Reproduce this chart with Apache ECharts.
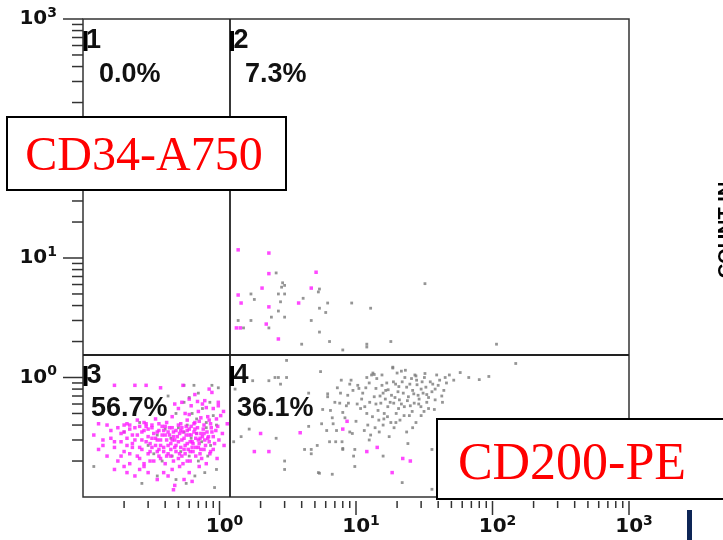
<!DOCTYPE html>
<html>
<head>
<meta charset="utf-8">
<script src="https://cdn.jsdelivr.net/npm/echarts@6/dist/echarts.min.js"></script>
<style>
  html, body { margin: 0; padding: 0; background: #fff; }
  #chart { width: 723px; height: 540px; }
</style>
</head>
<body>
<div id="chart"></div>
<script>
// Log-scaled axes (both channels span four decades)
const axisMin = 0.1;
const axisMax = 1000;
const decadeValues = [1, 10, 100, 1000];
const decadeExponents = ['0', '1', '2', '3'];
const minorTickValues = [
  0.2, 0.3, 0.4, 0.5, 0.6, 0.7, 0.8, 0.9,
  2, 3, 4, 5, 6, 7, 8, 9,
  20, 30, 40, 50, 60, 70, 80, 90,
  200, 300, 400, 500, 600, 700, 800, 900
];

// Quadrant gate thresholds
const gateX = 1.18;
const gateY = 1.56;

// Quadrant statistics
const quadrantNames = ['1', '2', '3', '4'];
const quadrantPercents = ['0.0%', '7.3%', '56.7%', '36.1%'];

// Axis channel names
const xChannel = 'CD200-PE';
const yChannel = 'CD34-A750';
const sideLabel = 'COUNT IN';

// Events: [CD200-PE, CD34-A750]
const magentaQ3 = [
  [0.17,0.86],[0.24,0.86],[0.29,0.86],[0.37,0.82],[0.88,0.75],[0.54,0.86],[0.53,0.62],[0.6,0.66],
  [0.78,0.64],[0.98,0.58],[1.07,0.52],[0.47,0.6],[0.66,0.72],[0.84,0.8],
  [0.5,0.55],[0.56,0.5],[0.62,0.58],[0.7,0.52],[0.75,0.6],[0.82,0.47],[0.9,0.55],[0.95,0.45],
  [1.02,0.48],[0.58,0.44],[0.66,0.42],[0.73,0.46],[0.86,0.41],[0.45,0.47],[0.41,0.42],[0.52,0.41],
  [0.98,0.62],[0.8,0.56],[0.69,0.63],[0.6,0.49],[1.14,0.41],
  [0.13,0.41],[0.15,0.4],[0.2,0.4],[0.21,0.41],[0.22,0.4],[0.28,0.42],[0.29,0.41],[0.32,0.4],
  [0.36,0.41],[0.25,0.44],[0.34,0.45],
  [0.12,0.33],[0.14,0.3],[0.16,0.36],[0.17,0.29],[0.19,0.34],[0.21,0.31],[0.22,0.37],[0.23,0.28],
  [0.25,0.33],[0.26,0.39],[0.27,0.3],[0.28,0.36],[0.3,0.32],[0.31,0.28],[0.32,0.38],[0.33,0.34],
  [0.35,0.3],[0.36,0.36],[0.37,0.27],[0.38,0.33],[0.4,0.39],[0.41,0.3],[0.42,0.35],[0.44,0.28],
  [0.45,0.38],[0.46,0.32],[0.48,0.36],[0.5,0.29],[0.51,0.34],[0.53,0.38],[0.55,0.31],[0.56,0.27],
  [0.58,0.36],[0.6,0.33],[0.62,0.39],[0.63,0.29],[0.65,0.35],[0.67,0.31],[0.69,0.38],[0.71,0.28],
  [0.73,0.34],[0.76,0.37],[0.78,0.3],[0.81,0.35],[0.84,0.29],[0.87,0.38],[0.9,0.32],[0.94,0.36],
  [0.99,0.3],[1.05,0.34],
  [0.2,0.35],[0.24,0.3],[0.29,0.39],[0.34,0.31],[0.39,0.36],[0.43,0.33],[0.47,0.3],[0.52,0.36],
  [0.57,0.33],[0.61,0.29],[0.66,0.37],[0.72,0.31],[0.77,0.34],[0.83,0.32],
  [0.13,0.25],[0.15,0.22],[0.17,0.26],[0.18,0.2],[0.2,0.24],[0.22,0.19],[0.23,0.26],[0.25,0.22],
  [0.27,0.25],[0.28,0.19],[0.3,0.23],[0.32,0.26],[0.33,0.2],[0.35,0.24],[0.37,0.21],[0.39,0.26],
  [0.4,0.19],[0.42,0.23],[0.44,0.25],[0.46,0.2],[0.48,0.24],[0.5,0.21],[0.52,0.26],[0.54,0.19],
  [0.56,0.23],[0.59,0.25],[0.61,0.2],[0.64,0.24],[0.67,0.22],[0.7,0.26],[0.74,0.21],[0.77,0.25],
  [0.8,0.19],[0.85,0.23],[0.9,0.25],[0.96,0.21],
  [0.19,0.22],[0.26,0.21],[0.31,0.2],[0.36,0.25],[0.41,0.22],[0.47,0.26],[0.53,0.22],[0.58,0.2],
  [0.63,0.26],[0.72,0.23],
  [0.17,0.17],[0.21,0.16],[0.26,0.17],[0.3,0.16],[0.39,0.16],[0.45,0.17],[0.47,0.125],[0.46,0.115],
  [0.55,0.14],[0.63,0.135],[0.71,0.18],[0.35,0.14],[0.24,0.15],[0.42,0.15],[0.6,0.16],[0.51,0.18],
  [0.2,0.18],[0.28,0.18],
  [0.21,0.27],[0.23,0.33],[0.24,0.38],[0.26,0.26],[0.27,0.35],[0.29,0.29],[0.3,0.37],[0.31,0.24],
  [0.32,0.31],[0.34,0.27],[0.35,0.35],[0.36,0.22],[0.37,0.3],[0.38,0.39],[0.39,0.24],[0.4,0.33],
  [0.42,0.27],[0.43,0.38],[0.44,0.22],[0.45,0.3],[0.46,0.35],[0.48,0.27],[0.49,0.32],[0.5,0.4],
  [0.51,0.23],[0.53,0.3],[0.54,0.35],[0.55,0.25],[0.57,0.39],[0.58,0.28],[0.6,0.37],[0.61,0.24],
  [0.62,0.33],[0.64,0.28],[0.65,0.41],[0.67,0.26],[0.68,0.34],[0.7,0.3],[0.71,0.43],[0.73,0.25],
  [0.75,0.32],[0.77,0.4],[0.79,0.27],[0.82,0.31],[0.84,0.44],[0.86,0.24],[0.88,0.35],[0.92,0.28],
  [0.97,0.39],[1.08,0.27],[0.16,0.31],[0.18,0.38],[0.14,0.27],[0.19,0.29],[0.22,0.23]
];

const grayQ3 = [
  [0.55,0.86],[0.65,0.86],[0.88,0.86],[0.7,0.74],[0.42,0.7],[0.6,0.68],[0.85,0.62],[0.98,0.82],
  [0.75,0.55],[0.63,0.5],[0.55,0.62],[0.9,0.48],[0.48,0.5],[0.68,0.45],[0.8,0.42],[0.95,0.4],
  [0.58,0.4],[0.2,0.35],[0.26,0.42],[0.3,0.27],[0.35,0.33],[0.4,0.37],[0.44,0.31],[0.5,0.38],
  [0.55,0.35],[0.62,0.31],[0.68,0.34],[0.74,0.29],[0.8,0.38],[0.86,0.27],[0.33,0.23],[0.38,0.2],
  [0.45,0.22],[0.52,0.24],[0.6,0.22],[0.7,0.2],[0.82,0.22],[0.95,0.17],[0.12,0.18],[0.27,0.13],
  [0.57,0.13],[0.66,0.15],[0.78,0.16],[0.92,0.12],[0.35,0.15],[0.48,0.14]
];

const magentaQ4 = [
  [2.0,0.34],[3.9,0.345],[1.8,0.24],[2.3,0.24],[8.0,0.37],[8.6,0.43],[12,0.24],[14.3,0.26],
  [18.4,0.16],[22,0.21],[25,0.2]
];

const grayQ4 = [
  [1.27,0.29],[1.44,0.32],[1.65,0.37],[2.6,0.31],[3.0,0.2],[3.0,0.17],[5.3,0.16],[4.7,0.23],
  [4.2,0.25],[5.2,0.27],[4.5,0.39],[5.6,0.41],[2.3,0.94],[2.55,1.0],[2.8,0.88],[2.7,1.0],
  [1.75,0.94],[4.5,0.74],[5.7,0.54],[6.2,0.69],[3.1,1.39],[3.1,1.0],[1.3,0.8],
  [5.5,1.12],[6.2,0.73],[6.5,0.53],[6.7,0.46],[6.8,0.41],[7.2,0.36],[6.4,0.29],[7.1,0.29],
  [7.9,0.29],[8.0,0.25],[7.7,0.74],[7.6,0.61],[8.0,0.51],[8.7,0.71],[8.8,0.61],[9.0,0.35],
  [9.4,0.34],[9.6,0.22],[9.8,0.18],[10.3,0.86],[10.5,0.81],[11.2,0.74],[11.6,0.57],[12,0.5],
  [12.2,0.4],[12.8,0.33],[13,1.05],[13.3,1.09],[13.6,0.69],[14,0.81],[14.5,0.53],[14.7,0.44],
  [15.2,0.61],[15.5,0.86],[15.8,0.74],[15.8,0.4],[16.1,0.5],[16.4,0.66],[16.8,0.9],[17.1,0.57],
  [17.2,0.79],[18,0.42],[18.2,0.71],[18.6,1.2],[18.9,0.61],[19.5,0.88],[19.7,0.5],[20,1.09],
  [20.3,0.76],[20.8,0.65],[21,0.44],[21.8,0.92],[22.2,0.74],[22.6,0.57],[23,1.15],[23.5,0.83],
  [23.5,0.35],[24.2,0.69],[24.6,0.48],[25.5,0.98],[26,0.78],[26.7,0.61],[27,1.05],[27.5,0.42],
  [28,0.87],[28.5,0.71],[29.9,0.57],[30.5,0.92],[31,0.74],[32.5,0.83],[33,0.62],[35,0.92],
  [36,0.76],[39,1.05],[40,0.86],[42.5,0.7],[48.3,1.05],[67,1.0],[37.5,0.54],
  [18.6,1.22],[21.5,1.13],[15.5,1.05],[13.6,1.06],[27.5,1.03],[31.7,1.0],[148,1.31],
  [5.4,0.158],[6.7,0.155],[21.8,0.132],[36,0.116],[9.8,0.25],[15.8,0.22],[24,0.28],[36,0.25],
  [12.5,0.3],[17.5,0.32],[8.0,0.255],[4.7,0.25],
  [9.2,0.95],[11,0.66],[12.5,0.9],[14,0.6],[17,0.47],[19,0.38],[20.5,0.55],[22.5,0.48],
  [25,0.58],[26,0.38],[29,0.66],[30,0.48],[33,0.72],[34,0.55],[38,0.65],[44,0.78],
  [46,0.9],[52,0.95],[10,0.43],[11.5,0.36],[14.8,0.35],[7.3,0.82],[8.3,0.46],[6.1,0.36],
  [58,1.1],[80,0.96],[94,1.02],
  [8.5,0.58],[9.5,0.78],[10.8,0.55],[11.8,0.82],[12.6,0.62],[13.2,0.47],[14.2,0.98],[15,0.7],
  [16.5,0.78],[17.8,0.62],[18.8,0.92],[19.3,0.68],[20.6,0.84],[21.5,0.6],[22.8,1.0],[23.8,0.64],
  [24.8,0.88],[25.8,0.52],[26.5,0.73],[27.8,0.95],[28.8,0.6],[30,0.8],[31.5,0.52],[32,1.08],
  [34,0.68],[36.5,0.88],[38,0.8],[41,0.95],[43,0.62],[45,1.0],[10.2,0.6],[13.8,0.38],
  [16,0.45],[19.6,0.42],[9,0.88],[12,1.0],[7,0.62],[7.8,0.95]
];

const magentaQ2 = [
  [1.37,11.7],[2.3,11],[2.3,7.4],[5.1,7.6],[1.37,4.9],[1.44,4.2],[2.05,5.6],[4.7,5.6],
  [3.8,4.2],[2.3,3.9],[2.2,2.8],[1.33,2.6],[1.42,2.6],[2.7,2.1]
];

const grayQ2 = [
  [2.6,7.5],[2.9,6.2],[3.0,5.9],[2.85,5.7],[2.7,5.0],[3.0,5.0],[1.7,5.0],[1.8,4.5],
  [2.8,4.3],[2.7,3.6],[3.0,3.2],[2.4,3.2],[1.7,3.0],[1.37,3.0],[1.5,2.6],[2.3,2.6],
  [4.7,3.0],[5.4,3.8],[6.0,3.5],[5.4,2.4],[6.2,4.2],[9.3,4.2],[12.8,3.8],[32,6.1],
  [6.4,2.0],[12,1.9],[12,1.8],[18,2.0],[8.0,1.7],[4.0,1.9],[5.3,5.2],[4.1,4.6],
  [5.4,5.5],[107,1.9]
];

const chart = echarts.init(document.getElementById('chart'), null, { renderer: 'canvas' });

const tickColor = '#333';
const labelFont = 'DejaVu Sans';

function decadeLabel(v) {
  const i = decadeValues.findIndex(d => Math.abs(d - v) / d < 1e-6);
  return i < 0 ? '' : '{b|10}{s|' + decadeExponents[i] + '}';
}

// tick rows: [value, kind] where kind 2 = decade, 1 = minor
const tickRows = decadeValues.map(v => [v, 2]).concat(minorTickValues.map(v => [v, 1]));

const labelRich = {
  b: { fontFamily: labelFont, fontWeight: 'bold', fontSize: 20, color: '#111', lineHeight: 26 },
  s: { fontFamily: labelFont, fontWeight: 'bold', fontSize: 14, color: '#111', lineHeight: 13, verticalAlign: 'top' }
};

const scatterBase = { type: 'scatter', symbol: 'rect', silent: true, z: 3 };

const option = {
  animation: false,
  backgroundColor: '#ffffff',
  grid: {
    left: 83, top: 19, width: 546, height: 478,
    show: true, borderColor: '#333', borderWidth: 1.5, backgroundColor: 'transparent'
  },
  xAxis: {
    type: 'log', logBase: 10, min: axisMin, max: axisMax, splitNumber: 4,
    axisLine: { show: false }, axisTick: { show: false }, splitLine: { show: false },
    axisLabel: {
      margin: 17, formatter: decadeLabel, rich: labelRich, padding: [0, 0, 0, 10],
      showMinLabel: true, showMaxLabel: true
    }
  },
  yAxis: {
    type: 'log', logBase: 10, min: axisMin, max: axisMax, splitNumber: 4,
    axisLine: { show: false }, axisTick: { show: false }, splitLine: { show: false },
    axisLabel: { margin: 26, formatter: decadeLabel, rich: labelRich, showMinLabel: true, showMaxLabel: true }
  },
  series: [
    Object.assign({}, scatterBase, {
      name: 'gray', data: grayQ3.concat(grayQ4, grayQ2),
      symbolSize: 2.8, itemStyle: { color: '#7a7a7a' },
      markLine: {
        silent: true, symbol: ['none', 'none'], animation: false,
        label: { show: false },
        lineStyle: { color: '#222', width: 1.8, type: 'solid' },
        data: [{ xAxis: gateX }, { yAxis: gateY }]
      }
    }),
    Object.assign({}, scatterBase, {
      name: 'magenta', data: magentaQ3.concat(magentaQ4, magentaQ2),
      symbolSize: 3.5, itemStyle: { color: '#ff1aff' }
    }),
    {
      type: 'custom', name: 'xTicks', clip: false, silent: true, z: 5,
      data: tickRows,
      encode: { x: 0, y: 1 },
      renderItem: function (params, api) {
        const p = api.coord([api.value(0), axisMin]);
        const len = api.value(1) === 2 ? 14 : 7;
        return {
          type: 'line',
          shape: { x1: p[0], y1: p[1] + 4, x2: p[0], y2: p[1] + 4 + len },
          style: { stroke: tickColor, lineWidth: 1.5 }
        };
      }
    },
    {
      type: 'custom', name: 'yTicks', clip: false, silent: true, z: 5,
      data: tickRows.map(r => [axisMin, r[0], r[1]]),
      encode: { x: 0, y: 1 },
      renderItem: function (params, api) {
        const p = api.coord([axisMin, api.value(1)]);
        const len = api.value(2) === 2 ? 20 : 11;
        return {
          type: 'line',
          shape: { x1: p[0] - len, y1: p[1], x2: p[0], y2: p[1] },
          style: { stroke: tickColor, lineWidth: 1.5 }
        };
      }
    }
  ],
  graphic: []
};

// Quadrant annotations (gate marker bar, gate number, percentage)
const statFont = 'bold 27px "Liberation Sans", Arial, sans-serif';
const quadSpots = [
  { bx: 83.5, by: 31, nx: 86, ny: 41, px: 99, py: 75 },
  { bx: 230, by: 31, nx: 233.5, ny: 41, px: 245, py: 75 },
  { bx: 83.5, by: 366, nx: 86.5, ny: 376, px: 91, py: 408.5 },
  { bx: 230, by: 366, nx: 233.5, ny: 376, px: 237, py: 408.5 }
];
quadSpots.forEach((q, i) => {
  option.graphic.push(
    { type: 'rect', z: 100, shape: { x: q.bx, y: q.by, width: 4, height: 20 }, style: { fill: '#000' } },
    { type: 'text', z: 100, x: q.nx, y: q.ny,
      style: { text: quadrantNames[i], font: statFont, fill: '#111', textAlign: 'left', textVerticalAlign: 'middle' } },
    { type: 'text', z: 100, x: q.px, y: q.py,
      style: { text: quadrantPercents[i], font: statFont, fill: '#111', textAlign: 'left', textVerticalAlign: 'middle' } }
  );
});

// Channel name boxes
option.graphic.push(
  { type: 'rect', z: 110, shape: { x: 7, y: 117, width: 279, height: 73 },
    style: { fill: '#fff', stroke: '#000', lineWidth: 2 } },
  { type: 'text', z: 111, x: 144, y: 157,
    style: { text: yChannel, font: '48px "Liberation Serif", "Times New Roman", serif', fill: '#ff0000',
             textAlign: 'center', textVerticalAlign: 'middle' } },
  { type: 'rect', z: 110, shape: { x: 437, y: 419, width: 300, height: 80 },
    style: { fill: '#fff', stroke: '#000', lineWidth: 2 } },
  { type: 'text', z: 111, x: 572, y: 465,
    style: { text: xChannel, font: '52px "Liberation Serif", "Times New Roman", serif', fill: '#ff0000',
             textAlign: 'center', textVerticalAlign: 'middle' } },
  { type: 'text', z: 111, x: 716, y: 230, rotation: Math.PI / 2,
    style: { text: sideLabel, font: 'bold 20px "Liberation Sans", Arial, sans-serif', fill: '#000',
             textAlign: 'center', textVerticalAlign: 'top' } },
  { type: 'rect', z: 111, shape: { x: 687, y: 510, width: 5, height: 30 }, style: { fill: '#0d2556' } }
);

chart.setOption(option);
</script>
</body>
</html>
